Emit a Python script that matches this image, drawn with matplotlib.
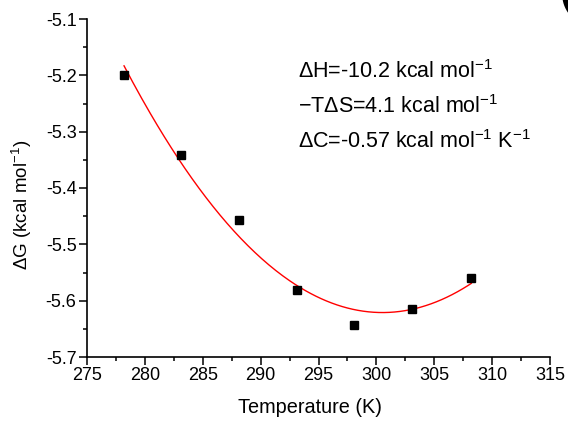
import numpy as np
import matplotlib
matplotlib.use("Agg")
import matplotlib.pyplot as plt
from matplotlib.ticker import MultipleLocator

plt.rcParams['font.family'] = ['Liberation Sans', 'DejaVu Sans']
plt.rcParams['mathtext.fontset'] = 'custom'
plt.rcParams['mathtext.rm'] = 'Liberation Sans'

# Measured free energies
temperature = [278.2, 283.1, 288.1, 293.1, 298.1, 303.1, 308.2]
delta_g = [-5.200, -5.341, -5.457, -5.581, -5.643, -5.615, -5.559]

# Thermodynamic parameters from the fit
annotations = [
    r"$\Delta$H=-10.2 kcal mol$^{-1}$",
    r"$-$T$\Delta$S=4.1 kcal mol$^{-1}$",
    r"$\Delta$C=-0.57 kcal mol$^{-1}$ K$^{-1}$",
]

fig = plt.figure(figsize=(5.68, 4.21), dpi=100)
ax = fig.add_axes([87 / 568, 1 - 357 / 421, 463 / 568, 338 / 421])

# Quadratic fit through the measured points
coef = np.polyfit(temperature, delta_g, 2)
t_fit = np.linspace(min(temperature), max(temperature), 200)
ax.plot(t_fit, np.polyval(coef, t_fit), color='red', lw=1.0, zorder=2)

ax.plot(temperature, delta_g, 's', color='black', ms=6, zorder=3)

ax.set_xlim(275, 315)
ax.set_ylim(-5.7, -5.1)
ax.xaxis.set_major_locator(MultipleLocator(5))
ax.xaxis.set_minor_locator(MultipleLocator(2.5))
ax.yaxis.set_major_locator(MultipleLocator(0.1))
ax.yaxis.set_minor_locator(MultipleLocator(0.05))
ax.yaxis.set_major_formatter(plt.FuncFormatter(lambda v, p: f"{v:.1f}"))

for side in ('top', 'right'):
    ax.spines[side].set_visible(False)
for side in ('left', 'bottom'):
    ax.spines[side].set_linewidth(1.2)

ax.tick_params(which='major', direction='out', length=5.5, width=1.1,
               labelsize=13, pad=2)
ax.tick_params(which='minor', direction='out', length=3.2, width=1.1)

ax.set_xlabel("Temperature (K)", fontsize=14.3, va='top')
ax.xaxis.set_label_coords((310 - 87) / 463, (357 - 398) / 338)
ax.set_ylabel(r"$\Delta$G (kcal mol$^{-1}$)", fontsize=13.5)
ax.yaxis.set_label_coords((34 - 87) / 463, (357 - 205) / 338)

for i, txt in enumerate(annotations):
    fig.text(298 / 568, 1 - (78 + 35 * i) / 421, txt, fontsize=15.5,
             ha='left', va='baseline')

# Partial panel bracket at the corner
fig.text(560 / 568, 1 - 4 / 421, "(", fontsize=30, fontweight='bold',
         ha='left', va='baseline')

fig.savefig("out.png", dpi=100)
